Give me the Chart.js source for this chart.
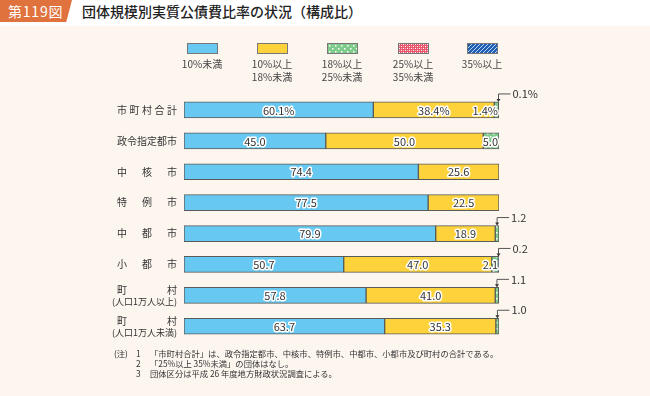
<!DOCTYPE html>
<html lang="ja">
<head>
<meta charset="utf-8">
<script src="https://cdn.jsdelivr.net/npm/chart.js@4/dist/chart.umd.min.js"></script>
<style>
  html, body { margin: 0; padding: 0; }
  body { width: 650px; height: 396px; background: #fdf6ef; position: relative; overflow: hidden;
         font-family: "Noto Sans CJK JP", "Noto Sans", sans-serif; color: #333; }
  .head { position: absolute; left: 0; top: 0; width: 650px; height: 26px; background: #fff; }
  .badge { position: absolute; left: 0; top: 0; width: 72px; height: 22px; background: #e0733d;
           clip-path: polygon(0 0, 100% 0, 92% 100%, 0 100%); color: #fff; font-size: 14px;
           line-height: 22px; padding-left: 8px; box-sizing: border-box; letter-spacing: 0.8px; }
  .title { position: absolute; left: 82px; top: 0; line-height: 22px; font-size: 14px; color: #222; font-weight: 500; }
  #wrap { position: absolute; left: 0; top: 0; width: 650px; height: 396px; }
  .leg { position: absolute; top: 43px; width: 70px; text-align: center; font-size: 10px; line-height: 12.5px; color: #444; }
  .leg i { display: block; width: 31px; height: 11px; margin: 0 auto 4px; border: 1px solid #777; box-sizing: border-box; }
  .notes { position: absolute; left: 114px; top: 348px; font-size: 8.3px; line-height: 10px; color: #333; }
  .notes div { white-space: nowrap; }
  .notes span { display: inline-block; }
</style>
</head>
<body>
<div class="head"><div class="badge">第119図</div><div class="title">団体規模別実質公債費比率の状況（構成比）</div></div>
<div id="wrap"><canvas id="chart" width="650" height="396"></canvas></div>
<div id="legend"></div>
<div class="notes">
  <div><span style="width:22px">(注)</span><span style="width:14px">1</span>「市町村合計」は、政令指定都市、中核市、特例市、中都市、小都市及び町村の合計である。</div>
  <div><span style="width:22px"></span><span style="width:14px">2</span>「25%以上 35%未満」の団体はなし。</div>
  <div><span style="width:22px"></span><span style="width:14px">3</span>団体区分は平成 26 年度地方財政状況調査による。</div>
</div>
<script>
// categories (lines of each row label)
const categories = [
  ['市町村合計'], ['政令指定都市'], ['中核市'], ['特例市'],
  ['中都市'], ['小都市'], ['町村', '(人口1万人以上)'], ['町村', '(人口1万人未満)']
];
const seriesNames = [['10%未満'], ['10%以上', '18%未満'], ['18%以上', '25%未満'], ['25%以上', '35%未満'], ['35%以上']];
const under10 = [60.1, 45.0, 74.4, 77.5, 79.9, 50.7, 57.8, 63.7];
const from10to18 = [38.4, 50.0, 25.6, 22.5, 18.9, 47.0, 41.0, 35.3];
const from18to25 = [1.4, 5.0, 0, 0, 1.2, 2.1, 1.1, 1.0];
const from25to35 = [0, 0, 0, 0, 0, 0, 0, 0];
const over35 = [0.1, 0, 0, 0, 0, 0.2, 0, 0];

function makePattern(kind) {
  const c = document.createElement('canvas');
  const g = c.getContext('2d');
  if (kind === 'dots') {
    c.width = 6; c.height = 6;
    g.fillStyle = '#7fcb8c'; g.fillRect(0, 0, 6, 6);
    g.fillStyle = '#fff';
    g.fillRect(1, 1, 1.5, 1.5); g.fillRect(4, 4, 1.5, 1.5);
  } else if (kind === 'check') {
    c.width = 4; c.height = 4;
    g.fillStyle = '#e9556a'; g.fillRect(0, 0, 4, 4);
    g.fillStyle = '#fff';
    g.fillRect(0, 0, 1, 1); g.fillRect(2, 2, 1, 1);
    g.fillStyle = '#f6b0ba';
    g.fillRect(2, 0, 1, 1); g.fillRect(0, 2, 1, 1);
  } else {
    c.width = 4; c.height = 4;
    g.fillStyle = '#1e5fb4'; g.fillRect(0, 0, 4, 4);
    g.strokeStyle = '#bcd6f2'; g.lineWidth = 1;
    g.beginPath(); g.moveTo(0, 4); g.lineTo(4, 0); g.moveTo(-1, 1); g.lineTo(1, -1); g.moveTo(3, 5); g.lineTo(5, 3); g.stroke();
  }
  return c;
}
const ctx = document.getElementById('chart').getContext('2d');
const patCanvases = [null, null, makePattern('dots'), makePattern('check'), makePattern('diag')];
const fills = ['#67c9f1', '#fdd23a',
  ctx.createPattern(patCanvases[2], 'repeat'),
  ctx.createPattern(patCanvases[3], 'repeat'),
  ctx.createPattern(patCanvases[4], 'repeat')];

// HTML legend
const legX = [202, 272, 342, 413, 482];
const legend = document.getElementById('legend');
seriesNames.forEach((lines, i) => {
  const d = document.createElement('div');
  d.className = 'leg';
  d.style.left = (legX[i] - 35) + 'px';
  const sw = document.createElement('i');
  sw.style.background = patCanvases[i] ? 'url(' + patCanvases[i].toDataURL() + ')' : fills[i];
  d.appendChild(sw);
  lines.forEach(t => { const s = document.createElement('div'); s.textContent = t; d.appendChild(s); });
  legend.appendChild(d);
});

const allSeries = [under10, from10to18, from18to25, from25to35, over35];
const datasets = allSeries.map((arr, i) => ({
  label: seriesNames[i].join(''),
  data: arr.map(v => v === 0 ? null : v),
  backgroundColor: fills[i],
  borderColor: '#5a5a5a',
  borderWidth: 1,
  borderSkipped: false,
  barThickness: 16
}));

const FONT = '"Noto Sans CJK JP", "Noto Sans", sans-serif';

const rowLabels = {
  id: 'rowLabels',
  afterDraw(chart) {
    const g = chart.ctx, y = chart.scales.y;
    g.save();
    g.fillStyle = '#333';
    g.textBaseline = 'middle';
    categories.forEach((lines, i) => {
      const cy = y.getPixelForValue(i);
      lines.forEach((line, k) => {
        const ly = lines.length === 1 ? cy : cy - 5.5 + k * 11.5;
        if (line.startsWith('(')) {
          g.font = '9px ' + FONT;
          g.textAlign = 'right';
          g.fillText(line, 177, ly);
        } else {
          g.font = '10px ' + FONT;
          g.textAlign = 'left';
          const chars = Array.from(line);
          const x0 = 117, x1 = 177;
          const ws = chars.map(ch => g.measureText(ch).width);
          const total = ws.reduce((a, b) => a + b, 0);
          const gap = chars.length > 1 ? (x1 - x0 - total) / (chars.length - 1) : 0;
          let x = x0;
          chars.forEach((ch, j) => { g.fillText(ch, x, ly); x += ws[j] + gap; });
        }
      });
    });
    g.restore();
  }
};

const valueLabels = {
  id: 'valueLabels',
  afterDatasetsDraw(chart) {
    const g = chart.ctx;
    g.save();
    g.font = '11px ' + FONT;
    g.textBaseline = 'middle';
    g.lineJoin = 'round';
    const right = chart.scales.x.getPixelForValue(100);
    chart.data.datasets.forEach((ds, di) => {
      const meta = chart.getDatasetMeta(di);
      meta.data.forEach((bar, i) => {
        const v = allSeries[di][i];
        if (!v) return;
        const txt = v.toFixed(1) + (i === 0 ? '%' : '');
        const top = bar.y - bar.height / 2;
        const callout = di === 4 || (di === 2 && v <= 1.2);
        if (callout) {
          const lx = di === 4 ? right - 0.5 : (bar.x + bar.base) / 2;
          const ly = top - 8;
          g.strokeStyle = '#555'; g.lineWidth = 1;
          g.beginPath(); g.moveTo(lx, top - 1); g.lineTo(lx, ly); g.lineTo(lx + 12, ly); g.stroke();
          g.fillStyle = '#333';
          g.beginPath(); g.moveTo(lx - 2, top - 3); g.lineTo(lx + 2, top - 3); g.lineTo(lx, top); g.closePath(); g.fill();
          g.textAlign = 'left';
          g.fillStyle = '#333';
          g.fillText(txt, lx + 14, ly);
          return;
        }
        let x, align;
        if (di === 2) { x = right - 1; align = 'right'; }
        else { x = (bar.x + bar.base) / 2; align = 'center'; }
        g.textAlign = align;
        g.strokeStyle = '#fff'; g.lineWidth = 3;
        g.strokeText(txt, x, bar.y + 0.5);
        g.fillStyle = '#333';
        g.fillText(txt, x, bar.y + 0.5);
      });
    });
    g.restore();
  }
};

new Chart(ctx, {
  type: 'bar',
  data: { labels: categories.map(c => c.join('')), datasets },
  options: {
    indexAxis: 'y',
    responsive: false,
    animation: false,
    layout: { padding: { left: 0, right: 151, top: 94.5, bottom: 54.3 } },
    scales: {
      x: { stacked: true, min: 0, max: 100, display: false },
      y: {
        stacked: true,
        grid: { display: false },
        border: { display: false },
        ticks: { display: false },
        afterFit(scale) { scale.width = 184; }
      }
    },
    plugins: { legend: { display: false }, tooltip: { enabled: false } }
  },
  plugins: [rowLabels, valueLabels]
});
</script>
</body>
</html>
